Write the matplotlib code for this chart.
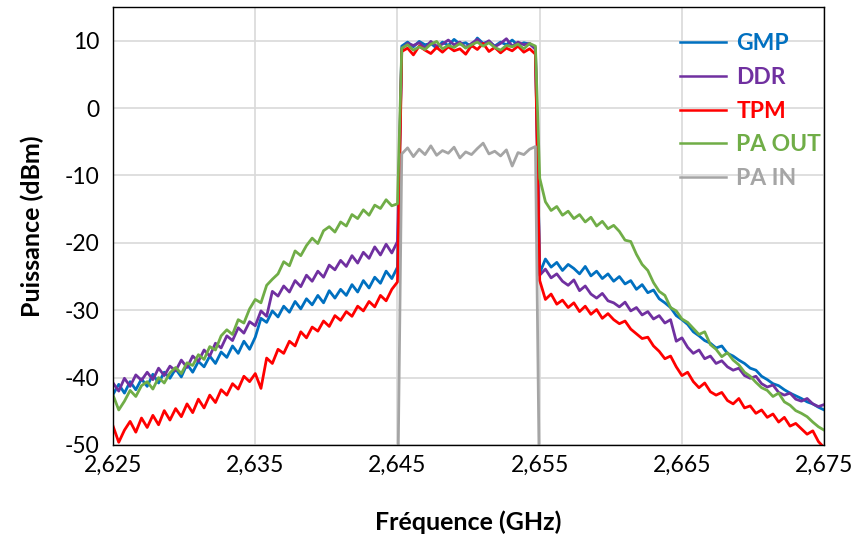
import numpy as np
import matplotlib.pyplot as plt
from matplotlib.ticker import FixedLocator, FuncFormatter

plt.rcParams['font.family'] = ['Lato', 'DejaVu Sans']
plt.rcParams['axes.unicode_minus'] = False

# grilles de fréquence (GHz)
f_gauche = np.linspace(2.625, 2.645, 51)
f_bande = np.linspace(2.6453, 2.6547, 24)
f_droite = np.linspace(2.655, 2.675, 51)

# GMP
gmp_g = [-42.5, -41.0, -42.3, -40.6, -41.8, -40.2, -41.3, -39.5, -40.8, -39.2,
         -40.1, -38.7, -39.9, -38.0, -39.2, -37.6, -38.4, -36.8, -37.9, -36.2,
         -37.0, -35.3, -36.4, -34.6, -35.8, -34.0, -31.2, -31.8, -30.1, -31.0,
         -29.4, -30.3, -28.7, -29.8, -28.3, -29.2, -27.8, -28.9, -27.1, -28.2,
         -26.9, -27.8, -26.2, -27.3, -25.6, -26.7, -25.1, -26.0, -24.2, -25.3, -23.6]
gmp_b = [9.2, 9.8, 9.1, 9.9, 9.4, 9.6, 8.9, 9.8, 9.3, 10.2, 9.5, 9.7,
         9.1, 10.4, 9.6, 9.9, 9.2, 9.8, 9.4, 10.1, 9.3, 9.7, 9.5, 8.9]
gmp_d = [-24.5, -22.4, -23.6, -22.9, -24.1, -23.2, -23.8, -24.6, -23.5, -24.9,
         -24.2, -25.3, -24.6, -25.7, -25.0, -26.1, -25.6, -26.9, -26.2, -27.4,
         -27.0, -28.3, -28.9, -29.6, -30.8, -31.4, -32.1, -33.2, -33.8, -34.5,
         -34.9, -35.6, -35.3, -36.4, -36.8, -37.4, -37.9, -38.6, -38.9, -39.8,
         -40.3, -40.9, -41.2, -41.8, -42.3, -42.7, -43.1, -43.6, -43.9, -44.4, -44.8]

# DDR
ddr_g = [-40.8, -42.0, -40.1, -41.3, -39.6, -40.4, -39.2, -40.3, -38.6, -39.7,
         -38.3, -39.0, -37.4, -38.5, -36.8, -37.6, -35.9, -36.8, -34.9, -35.6,
         -33.8, -34.5, -32.6, -33.4, -31.7, -32.3, -30.1, -30.9, -27.2, -27.9,
         -26.4, -27.3, -25.6, -26.5, -24.8, -25.7, -24.2, -25.1, -23.3, -24.0,
         -22.6, -23.5, -21.9, -23.0, -21.4, -22.3, -20.6, -21.8, -20.2, -21.5, -19.8]
ddr_b = [8.8, 9.6, 9.3, 9.7, 8.9, 9.9, 9.2, 9.5, 10.1, 9.4, 9.8, 9.0,
         9.6, 10.2, 9.4, 10.0, 9.1, 9.6, 10.3, 9.2, 9.8, 9.4, 9.6, 8.7]
ddr_d = [-24.8, -23.9, -25.2, -24.6, -25.7, -26.3, -25.5, -27.1, -26.4, -27.6,
         -28.2, -27.5, -28.6, -28.9, -29.5, -28.8, -30.1, -29.6, -30.7, -30.2,
         -31.3, -30.8, -31.9, -31.4, -34.6, -34.1, -35.5, -36.4, -35.9, -37.2,
         -36.8, -37.9, -37.5, -38.4, -38.9, -38.6, -39.7, -40.1, -39.8, -40.9,
         -41.4, -41.1, -42.2, -42.6, -42.3, -43.2, -43.5, -43.1, -43.9, -44.3, -44.0]

# TPM
tpm_g = [-47.2, -49.6, -47.8, -46.5, -48.1, -46.0, -47.4, -45.6, -47.0, -44.9,
         -46.3, -44.6, -45.8, -43.9, -45.2, -43.2, -44.5, -42.6, -43.7, -41.8,
         -42.6, -40.9, -41.7, -39.8, -40.6, -39.4, -41.6, -37.1, -37.9, -35.8,
         -36.4, -34.6, -35.3, -33.2, -34.1, -32.5, -33.1, -31.6, -32.4, -30.8,
         -31.5, -30.2, -30.9, -29.4, -30.1, -28.7, -29.5, -27.8, -28.6, -26.9, -25.8]
tpm_b = [8.4, 8.9, 7.9, 9.2, 8.6, 8.1, 9.0, 8.3, 9.1, 8.5, 8.8, 8.0,
         9.3, 8.7, 9.6, 8.4, 9.0, 8.2, 8.9, 8.5, 9.2, 8.3, 8.8, 8.0]
tpm_d = [-25.6, -28.4, -27.6, -29.1, -28.5, -29.6, -28.9, -30.2, -29.4, -30.6,
         -29.9, -31.2, -30.5, -31.4, -32.0, -31.6, -32.8, -33.5, -34.2, -34.0,
         -35.3, -36.1, -37.2, -36.8, -38.4, -39.7, -39.2, -40.6, -41.5, -40.8,
         -42.1, -42.6, -42.2, -43.4, -43.9, -43.1, -44.5, -44.2, -45.3, -44.8,
         -45.9, -45.4, -46.6, -45.9, -47.2, -46.8, -47.6, -48.4, -47.9, -49.5, -50.4]

# PA OUT
paout_g = [-42.6, -44.8, -43.5, -41.9, -42.8, -41.2, -40.6, -41.7, -40.0, -40.8,
           -39.3, -38.5, -39.4, -37.8, -38.2, -36.6, -37.3, -35.4, -35.9, -33.8,
           -32.9, -33.6, -31.4, -31.9, -29.8, -28.4, -28.9, -26.3, -25.4, -24.6,
           -22.8, -23.4, -21.2, -21.9, -20.4, -19.3, -20.1, -18.2, -17.6, -18.4,
           -16.9, -17.5, -15.8, -16.4, -15.1, -15.9, -14.4, -14.9, -13.6, -14.5, -14.2]
paout_b = [8.9, 9.4, 8.6, 9.1, 8.7, 9.5, 9.9, 8.8, 9.3, 9.0, 9.6, 8.9,
           9.4, 9.8, 9.2, 9.7, 9.0, 8.6, 9.3, 9.1, 9.5, 8.8, 9.6, 9.2]
paout_d = [-10.4, -13.9, -15.2, -14.6, -15.9, -15.3, -16.4, -15.8, -16.9, -16.2,
           -17.5, -16.8, -17.9, -17.4, -18.3, -19.6, -19.8, -21.7, -23.2, -24.1,
           -25.9, -27.2, -27.8, -29.6, -30.1, -31.3, -31.8, -32.7, -33.6, -33.2,
           -35.1, -35.8, -36.9, -36.3, -37.4, -38.1, -39.2, -39.8, -40.7, -41.5,
           -41.9, -42.8, -42.3, -43.6, -44.1, -44.9, -45.3, -45.8, -46.6, -47.3, -47.8]

# PA IN (hors bande : sous -50 dBm)
pain_b = [-6.8, -5.9, -7.2, -6.1, -6.9, -5.6, -7.0, -6.3, -6.7, -5.8, -7.4, -6.5,
          -6.9, -6.0, -5.2, -6.8, -6.4, -7.1, -6.2, -8.6, -6.6, -6.9, -6.1, -5.7]
pain_plancher = -60

noms = ['GMP', 'DDR', 'TPM', 'PA OUT', 'PA IN']
couleurs = ['#0070C0', '#7030A0', '#FF0000', '#70AD47', '#A5A5A5']

fig = plt.figure(figsize=(8.63, 5.42), dpi=100)
ax = fig.add_axes([0.131, 0.179, 0.824, 0.808])

f_tout = np.concatenate([f_gauche, f_bande, f_droite])
series = [gmp_g + gmp_b + gmp_d, ddr_g + ddr_b + ddr_d,
          tpm_g + tpm_b + tpm_d, paout_g + paout_b + paout_d]
for nom, c, y in zip(noms[:4], couleurs[:4], series):
    ax.plot(f_tout, y, color=c, lw=2.0, label=nom)

f_pain = np.concatenate([[f_gauche[-1]], f_bande, [f_droite[0]]])
y_pain = [pain_plancher] + pain_b + [pain_plancher]
ax.plot(f_pain, y_pain, color=couleurs[4], lw=2.0, label=noms[4])

ax.set_xlim(2.625, 2.675)
ax.set_ylim(-50, 15)
xt = [2.625, 2.635, 2.645, 2.655, 2.665, 2.675]
ax.xaxis.set_major_locator(FixedLocator(xt))
ax.xaxis.set_major_formatter(FuncFormatter(lambda v, p: f'{v:.3f}'.replace('.', ',')))
ax.yaxis.set_major_locator(FixedLocator([-50, -40, -30, -20, -10, 0, 10]))
ax.grid(True, color='#D9D9D9', lw=1.2)
ax.set_axisbelow(True)
ax.tick_params(length=0, labelsize=16.5, colors='black')
ax.tick_params(axis='x', pad=7)
ax.tick_params(axis='y', pad=10)
for s in ax.spines.values():
    s.set_color('black')
    s.set_linewidth(1)

ax.set_xlabel('Fréquence (GHz)', fontsize=18, fontweight='bold', labelpad=25)
ax.set_ylabel('Puissance (dBm)', fontsize=18, fontweight='bold', labelpad=15)

leg = ax.legend(loc='upper left', bbox_to_anchor=(0.797, 0.94), frameon=False,
                handlelength=2.0, handletextpad=0.47,
                labelspacing=0.55, borderpad=0, borderaxespad=0,
                labelcolor='linecolor', prop={'weight': 'bold', 'size': 16.5})
for l in leg.get_lines():
    l.set_linewidth(1.8)

fig.savefig('out.png', dpi=100)
